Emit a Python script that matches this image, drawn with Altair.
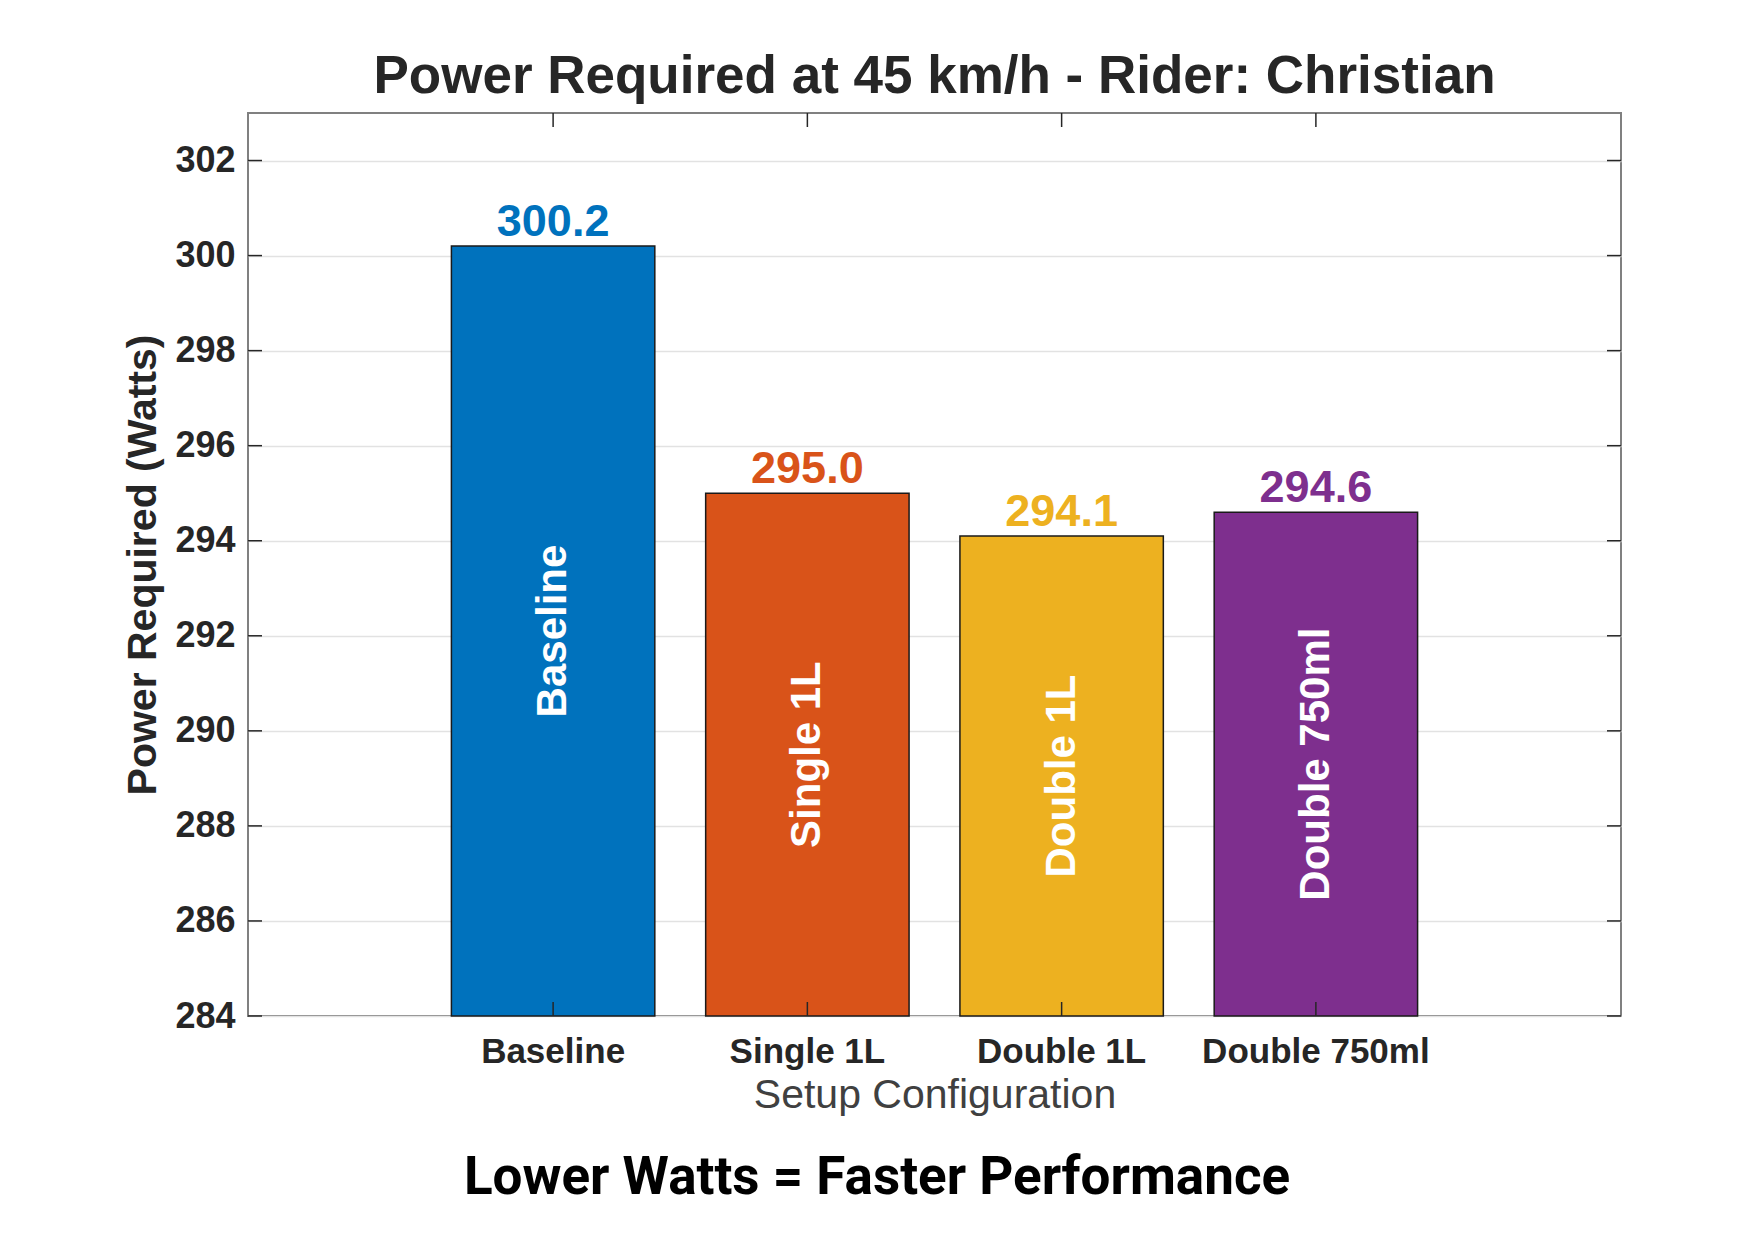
import altair as alt
import pandas as pd

# ---- data ----
categories = ["Baseline", "Single 1L", "Double 1L", "Double 750ml"]
power = [300.2, 295.0, 294.1, 294.6]
bar_colors = ["#0072BD", "#D95319", "#EDB120", "#7E2F8E"]
y_ticks = [284, 286, 288, 290, 292, 294, 296, 298, 300, 302]
y_min, y_max = 284, 303
title_text = "Power Required at 45 km/h - Rider: Christian"
x_title = "Setup Configuration"
y_title = "Power Required (Watts)"
caption = "Lower Watts = Faster Performance"

W, H = 1373, 903
FONT = "Liberation Sans, Arial, Helvetica, sans-serif"
DARK = "#262626"

df = pd.DataFrame({"setup": categories, "power": power})
df["base"] = y_min
df["label"] = df["power"].map(lambda v: f"{v:.1f}")
df["mid"] = (df["power"] + y_min) / 2
ticks_df = pd.DataFrame({"t": y_ticks})
cap_df = pd.DataFrame({"c": [caption]})

xscale = alt.Scale(domain=categories, paddingInner=0.2, paddingOuter=0.8)
yscale = alt.Scale(domain=[y_min, y_max], nice=False, zero=False)
cscale = alt.Scale(domain=categories, range=bar_colors)

x_axis = alt.Axis(
    title=x_title, labelAngle=0, labelFont=FONT, labelFontSize=35,
    labelFontWeight="bold", labelColor=DARK, labelPadding=18, labelLimit=0,
    ticks=False, domain=False, grid=False,
    titleFont=FONT, titleFontSize=41, titleFontWeight="normal",
    titleColor="#404040", titleY=79, titleBaseline="middle",
)
y_axis = alt.Axis(
    values=y_ticks, title=y_title, grid=True, gridColor="#e2e2e2",
    gridWidth=1.5, ticks=False, domain=False,
    labelFont=FONT, labelFontSize=36, labelFontWeight="bold",
    labelColor=DARK, labelPadding=13,
    titleFont=FONT, titleFontSize=41, titleFontWeight="bold",
    titleColor=DARK, titleX=-105, titleY=H / 2, titleAngle=270,
    titleBaseline="middle", titleAlign="center",
)


def X():
    return alt.X("setup:N", scale=xscale, sort=categories, axis=x_axis, title=x_title)


def Y(field):
    return alt.Y(field, scale=yscale, axis=y_axis, title=y_title)


base = alt.Chart(df)

bars = base.mark_bar(stroke="#1a1a1a", strokeWidth=1.5).encode(
    x=X(),
    y=Y("power:Q"),
    y2=alt.Y2("base:Q"),
    color=alt.Color("setup:N", scale=cscale, legend=None),
)

values = base.mark_text(
    baseline="alphabetic", dy=-10, font=FONT, fontSize=45, fontWeight="bold"
).encode(
    x=X(),
    y=Y("power:Q"),
    text="label:N",
    color=alt.Color("setup:N", scale=cscale, legend=None),
)

inner = base.mark_text(
    angle=270, color="white", font=FONT, fontSize=42, fontWeight="bold",
    align="center", baseline="middle",
).encode(
    x=X(),
    y=Y("mid:Q"),
    text="setup:N",
)

TL = 14
tick_style = dict(color=DARK, strokeWidth=1.5)
left_ticks = alt.Chart(ticks_df).mark_rule(**tick_style).encode(
    y=Y("t:Q"), x=alt.value(0), x2=alt.value(TL)
)
right_ticks = alt.Chart(ticks_df).mark_rule(**tick_style).encode(
    y=Y("t:Q"), x=alt.value(W - TL), x2=alt.value(W)
)
bottom_ticks = base.mark_rule(**tick_style).encode(
    x=X(), y=alt.value(H - TL), y2=alt.value(H),
)
top_ticks = base.mark_rule(**tick_style).encode(
    x=X(), y=alt.value(0), y2=alt.value(TL),
)

cap = alt.Chart(cap_df).mark_text(
    font="Roboto, Liberation Sans, sans-serif", fontSize=53, fontWeight="bold",
    color="black", align="center", baseline="middle",
).encode(text="c:N", x=alt.value(629), y=alt.value(1065))

chart = alt.layer(
    bars, values, inner, left_ticks, right_ticks, bottom_ticks, top_ticks, cap
).properties(
    width=W,
    height=H,
    autosize=alt.AutoSizeParams(type="none"),
    padding={"left": 240, "top": 105, "right": 119, "bottom": 216},
    title=alt.TitleParams(
        title_text, font=FONT, fontSize=53, fontWeight="bold", color=DARK,
        anchor="middle", frame="group", offset=8,
    ),
    background="white",
).configure_view(stroke="#808080", strokeWidth=2)

chart.save("out.html", embed_options={"renderer": "svg", "actions": False})
